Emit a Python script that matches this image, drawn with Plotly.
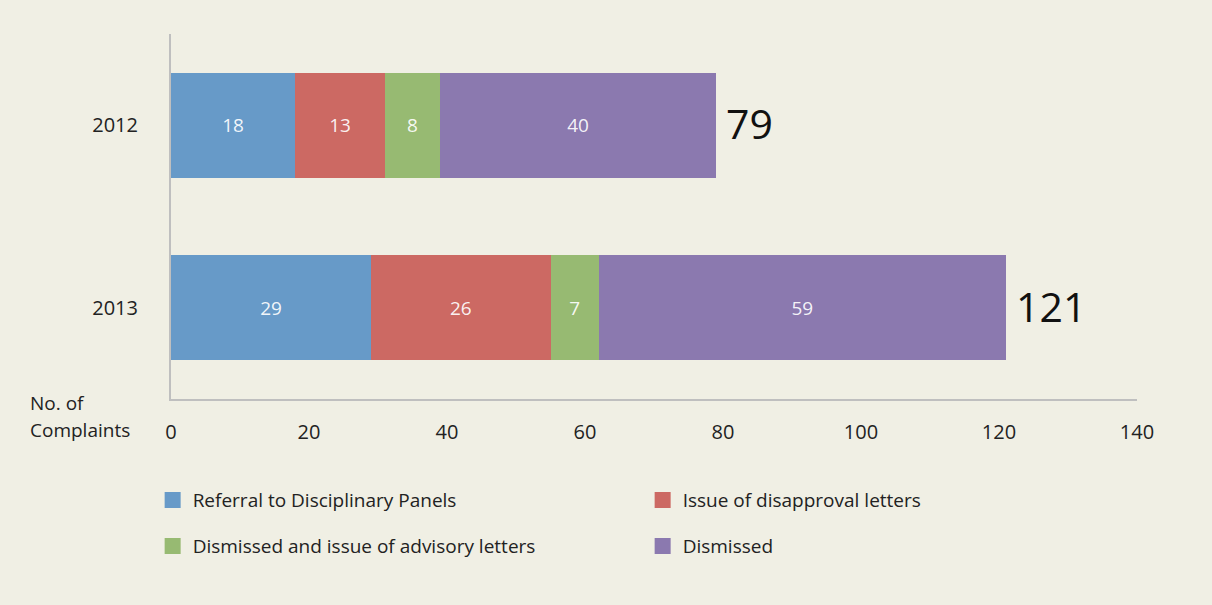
import plotly.graph_objects as go

years = ["2012", "2013"]
series_names = [
    "Referral to Disciplinary Panels",
    "Issue of disapproval letters",
    "Dismissed and issue of advisory letters",
    "Dismissed",
]
referral = [18, 29]
disapproval = [13, 26]
advisory = [8, 7]
dismissed = [40, 59]
x_ticks = [0, 20, 40, 60, 80, 100, 120, 140]

colors = ["#679AC8", "#CC6963", "#97BA72", "#8B79AF"]
values = [referral, disapproval, advisory, dismissed]
totals = [sum(v) for v in zip(*values)]

FONT = "Open Sans"
BG = "#F0EFE4"
TXT = "#222222"

fig = go.Figure()
for name, vals, col in zip(series_names, values, colors):
    fig.add_trace(go.Bar(
        y=years, x=vals, name=name, orientation="h",
        marker=dict(color=col, line=dict(width=0)),
        text=[str(v) for v in vals], textposition="inside",
        insidetextanchor="middle",
        textfont=dict(color="rgba(255,255,255,0.92)", size=19, family=FONT),
        hoverinfo="skip", showlegend=False,
    ))

# totals at the end of each bar (y given as category index)
for idx, t in enumerate(totals):
    fig.add_annotation(x=t, y=idx, text=str(t), showarrow=False,
                       xanchor="left", xshift=8, yshift=2,
                       font=dict(size=41, color="#111111", family=FONT))

# legend entries (square markers), two rows
legend_ids = ["legend", "legend", "legend2", "legend2"]
for name, col, lg in zip(series_names, colors, legend_ids):
    fig.add_trace(go.Scatter(
        x=[None], y=[None], mode="markers", name=name,
        marker=dict(symbol="square", size=16, color=col),
        legend=lg, showlegend=True, hoverinfo="skip",
    ))

fig.add_annotation(x=-0.148, y=-0.011, xref="paper", yref="paper",
                   text="No. of", showarrow=False,
                   xanchor="left", yanchor="middle",
                   font=dict(size=19, color=TXT, family=FONT))
fig.add_annotation(x=-0.148, y=-0.085, xref="paper", yref="paper",
                   text="Complaints", showarrow=False,
                   xanchor="left", yanchor="middle",
                   font=dict(size=19, color=TXT, family=FONT))

leg_common = dict(orientation="h", xanchor="left", yanchor="middle",
                  entrywidth=445, entrywidthmode="pixels",
                  traceorder="normal", itemclick=False,
                  font=dict(size=19, color=TXT, family=FONT),
                  bgcolor="rgba(0,0,0,0)")

fig.update_layout(
    width=1212, height=605,
    paper_bgcolor=BG, plot_bgcolor=BG,
    barmode="stack", bargap=0.425,
    margin=dict(l=171, r=75, t=34, b=206),
    font=dict(family=FONT, color=TXT, size=19),
    xaxis=dict(range=[0, 140], tickvals=x_ticks, showgrid=False,
               zeroline=False, showline=True, linecolor="#BFBFBF",
               linewidth=2, ticks="outside", ticklen=14, tickcolor=BG,
               tickfont=dict(size=20, color=TXT)),
    yaxis=dict(type="category", categoryorder="array",
               categoryarray=years, range=[1.5, -0.5],
               showgrid=False, zeroline=False,
               showline=True, linecolor="#BFBFBF", linewidth=2,
               ticks="outside", ticklen=27, tickcolor=BG,
               tickfont=dict(size=20, color=TXT)),
    legend=dict(x=-0.019, y=-0.277, **leg_common),
    legend2=dict(x=-0.019, y=-0.403, **leg_common),
    showlegend=True,
)

fig.write_html("out.html", config={"displayModeBar": False},
               post_script="document.body.style.margin='0';document.body.style.overflow='hidden';")
